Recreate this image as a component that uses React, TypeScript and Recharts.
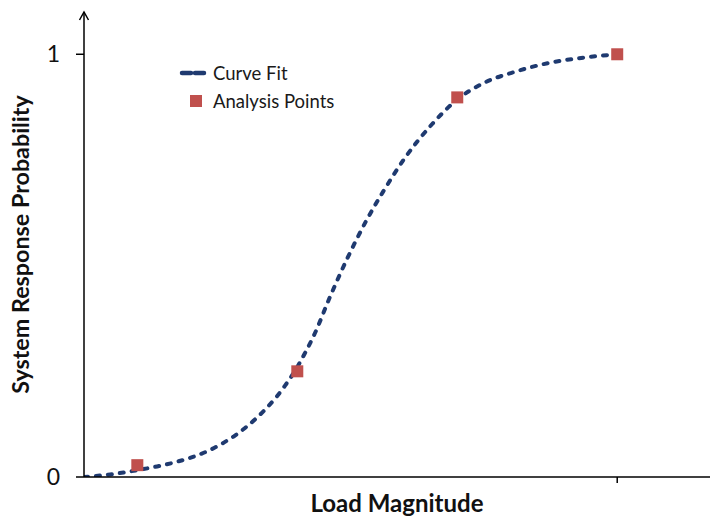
import React from 'react';
import { ComposedChart, Line, Scatter, XAxis, YAxis } from 'recharts';

const curveX = [0, 0.49, 0.99, 1.37, 1.71, 2.03, 2.33, 2.59, 2.83, 3.02, 3.24, 3.43, 3.62, 3.77, 3.99, 4.14, 4.33, 4.61, 4.93, 5.31, 5.61, 6.02, 6.53, 7.0, 7.48, 8.12, 8.74, 9.36, 10.0];
const curveY = [0, 0.006, 0.016, 0.025, 0.035, 0.047, 0.062, 0.079, 0.098, 0.116, 0.14, 0.164, 0.191, 0.216, 0.258, 0.292, 0.34, 0.425, 0.515, 0.61, 0.675, 0.755, 0.835, 0.893, 0.931, 0.96, 0.98, 0.992, 1.0];

const pointX = [1, 4, 7, 10];
const pointY = [0.028, 0.25, 0.898, 1.0];

const yTicks = [0, 1];
const xTicks = [10];

const seriesNames = ['Curve Fit', 'Analysis Points'];

const curveData = curveX.map((x, i) => ({ x, y: curveY[i] }));
const pointData = pointX.map((x, i) => ({ x, y: pointY[i] }));

const NAVY = '#1F3A70';
const RED = '#C0504D';
const FONT = 'Lato, "Open Sans", sans-serif';

const SquareShape = (props: any) => {
  const { cx, cy } = props;
  if (cx == null || cy == null) return null;
  return <rect x={cx - 6} y={cy - 6} width={12} height={12} fill={RED} />;
};

const LegendBox = () => (
  <div style={{ position: 'absolute', left: 176, top: 59, fontFamily: FONT, fontSize: 18.5, color: '#1a1a1a', lineHeight: '28px' }}>
    <div style={{ display: 'flex', alignItems: 'center' }}>
      <svg width={32} height={12} style={{ marginRight: 5 }}>
        <line x1={6} y1={6} x2={30} y2={6} stroke={NAVY} strokeWidth={4.5} strokeDasharray="9 4" strokeLinecap="round" />
      </svg>
      <span>{seriesNames[0]}</span>
    </div>
    <div style={{ display: 'flex', alignItems: 'center' }}>
      <svg width={32} height={12} style={{ marginRight: 5 }}>
        <rect x={14} y={0} width={12} height={12} fill={RED} />
      </svg>
      <span>{seriesNames[1]}</span>
    </div>
  </div>
);

export default function App() {
  return (
    <div style={{ position: 'absolute', left: 0, top: 0, width: 713, height: 518, background: '#fff' }}>
      <ComposedChart width={713} height={518} margin={{ top: 12, right: 3, bottom: 0, left: 0 }} style={{ fontFamily: FONT }}>
        <defs>
          <marker id="arrowUp" viewBox="-10 -6 12 12" refX={0} refY={0} markerWidth={12} markerHeight={12} markerUnits="userSpaceOnUse" orient="auto-start-reverse">
            <path d="M-8,-4.5 L0,0 L-8,4.5" fill="none" stroke="#000" strokeWidth={1.5} />
          </marker>
        </defs>
        <XAxis
          type="number"
          dataKey="x"
          domain={[0, 11.74]}
          ticks={xTicks}
          tickFormatter={() => ''}
          tickSize={6}
          height={41}
          allowDataOverflow
          axisLine={{ stroke: '#000', strokeWidth: 1.5 }}
          tickLine={{ stroke: '#000', strokeWidth: 1.5 }}
          label={{ value: 'Load Magnitude', position: 'insideBottom', offset: 6, style: { fontFamily: FONT, fontWeight: 700, fontSize: 24, fill: '#111' } }}
        />
        <YAxis
          type="number"
          dataKey="y"
          domain={[0, 1.1]}
          ticks={yTicks}
          width={84}
          tickSize={8}
          tickMargin={16}
          allowDataOverflow
          axisLine={{ stroke: '#000', strokeWidth: 1.5, markerStart: 'url(#arrowUp)' }}
          tickLine={{ stroke: '#000', strokeWidth: 1.5 }}
          tick={{ fontFamily: FONT, fontSize: 23, fill: '#111' }}
          label={{ value: 'System Response Probability', angle: -90, position: 'insideLeft', offset: 21, style: { textAnchor: 'middle', fontFamily: FONT, fontWeight: 700, fontSize: 23.3, fill: '#111' } }}
        />
        <Line
          data={curveData}
          dataKey="y"
          type="monotone"
          stroke={NAVY}
          strokeWidth={4}
          strokeDasharray="4 8"
          strokeLinecap="round"
          dot={false}
          activeDot={false}
          isAnimationActive={false}
          name={seriesNames[0]}
        />
        <Scatter
          data={pointData}
          dataKey="y"
          fill={RED}
          shape={<SquareShape />}
          isAnimationActive={false}
          name={seriesNames[1]}
        />
      </ComposedChart>
      <LegendBox />
    </div>
  );
}
